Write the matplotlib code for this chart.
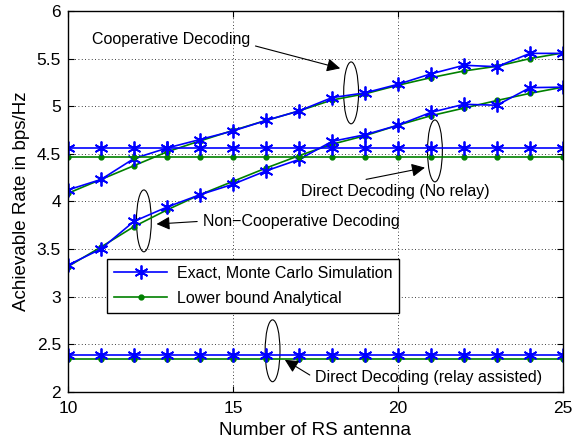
import matplotlib
matplotlib.use("Agg")
import matplotlib.pyplot as plt
from matplotlib.patches import Ellipse

plt.rcParams['font.family'] = ['Liberation Sans', 'DejaVu Sans']

# data
antennas = list(range(10, 26))

coop_exact = [4.12, 4.23, 4.45, 4.56, 4.65, 4.74, 4.85, 4.95,
              5.09, 5.14, 5.23, 5.34, 5.43, 5.415, 5.555, 5.555]
coop_bound = [4.085, 4.23, 4.375, 4.52, 4.635, 4.745, 4.85, 4.95,
              5.065, 5.13, 5.22, 5.30, 5.37, 5.42, 5.50, 5.56]

noncoop_exact = [3.33, 3.50, 3.79, 3.94, 4.07, 4.18, 4.32, 4.44,
                 4.63, 4.70, 4.80, 4.935, 5.02, 5.01, 5.195, 5.20]
noncoop_bound = [3.315, 3.52, 3.735, 3.91, 4.07, 4.21, 4.35, 4.48,
                 4.60, 4.69, 4.80, 4.90, 4.98, 5.06, 5.135, 5.20]

direct_exact = [4.565] * len(antennas)
direct_bound = [4.465] * len(antennas)

relay_exact = [2.387] * len(antennas)
relay_bound = [2.34] * len(antennas)

fig = plt.figure(figsize=(5.78, 4.41), dpi=100)
ax = fig.add_axes([0.1176, 0.1118, 0.8564, 0.8632])

blue_kw = dict(color='#0000ff', marker=(6, 2, 0), markersize=10, lw=1.2, markeredgewidth=1.3)
green_kw = dict(color='#008000', marker='.', markersize=7, lw=1.2)

for ex, lb in [(coop_exact, coop_bound), (noncoop_exact, noncoop_bound),
               (direct_exact, direct_bound), (relay_exact, relay_bound)]:
    ax.plot(antennas, lb, **green_kw)
    ax.plot(antennas, ex, **blue_kw)

# legend handles
h1, = ax.plot([], [], label='Exact, Monte Carlo Simulation', **blue_kw)
h2, = ax.plot([], [], label='Lower bound Analytical', **green_kw)

ax.set_xlim(10, 25)
ax.set_ylim(2, 6)
ax.set_xticks([10, 15, 20, 25])
ax.set_yticks([2, 2.5, 3, 3.5, 4, 4.5, 5, 5.5, 6])
ax.set_yticklabels(['2', '2.5', '3', '3.5', '4', '4.5', '5', '5.5', '6'])
ax.grid(True, color='black', linestyle=(0, (1, 3)), linewidth=0.6)
ax.tick_params(direction='in', top=True, right=True, labelsize=12.5, length=4)
ax.tick_params(axis='x', pad=7)
ax.tick_params(axis='y', pad=5)
for s in ax.spines.values():
    s.set_linewidth(1.0)

ax.set_xlabel('Number of RS antenna', fontsize=13.5, labelpad=4)
ax.set_ylabel('Achievable Rate in bps/Hz', fontsize=13.5, labelpad=5)

leg = ax.legend(handles=[h1, h2], loc='lower left', bbox_to_anchor=(0.079, 0.2075),
                borderaxespad=0, fontsize=11.5, fancybox=False, framealpha=1,
                edgecolor='black', handlelength=3.3, borderpad=0.45, labelspacing=0.6,
                handletextpad=0.6)
leg.get_frame().set_linewidth(1.0)

# ellipses grouping the curves
for cx, cy in [(18.58, 5.14), (21.12, 4.53), (12.30, 3.795), (16.2, 2.43)]:
    ax.add_patch(Ellipse((cx, cy), 0.45, 0.65, fill=False, edgecolor='black', lw=0.8))

arrow = dict(arrowstyle='-|>', color='black', lw=0.8, mutation_scale=20)
ax.annotate('', xy=(18.33, 5.39), xytext=(15.6, 5.64), arrowprops=arrow)
ax.text(13.12, 5.70, 'Cooperative Decoding', fontsize=11.5, ha='center', va='center')

ax.annotate('', xy=(20.9, 4.36), xytext=(18.95, 4.225), arrowprops=arrow)
ax.text(19.93, 4.10, 'Direct Decoding (No relay)', fontsize=11.5, ha='center', va='center')

ax.annotate('', xy=(12.6, 3.76), xytext=(14.0, 3.79), arrowprops=arrow)
ax.text(14.1, 3.79, 'Non\u2212Cooperative Decoding', fontsize=11.5, ha='left', va='center')

ax.annotate('', xy=(16.5, 2.35), xytext=(17.4, 2.16), arrowprops=arrow)
ax.text(17.5, 2.145, 'Direct Decoding (relay assisted)', fontsize=11.5, ha='left', va='center')

fig.savefig('out.png', dpi=100)
